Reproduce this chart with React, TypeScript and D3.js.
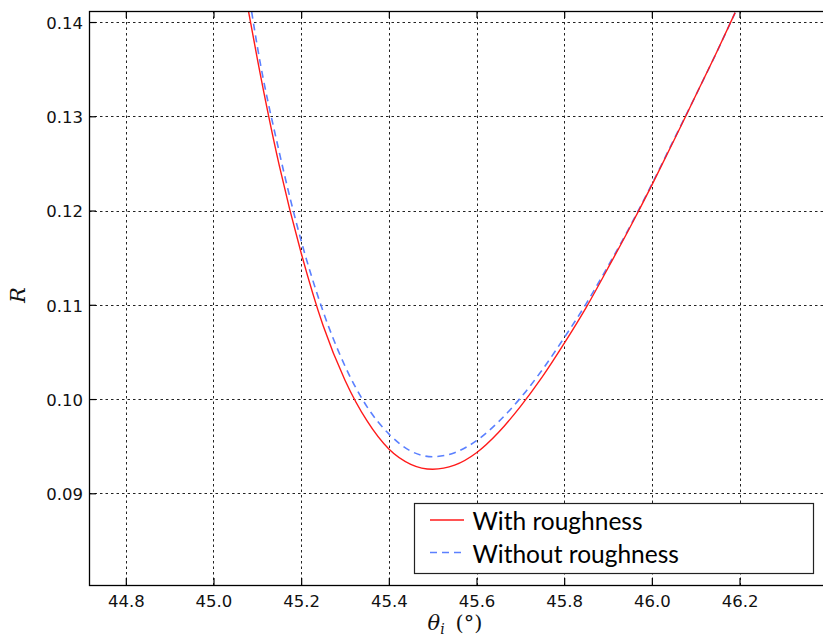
import React, { useEffect, useRef } from 'react'
import * as d3 from 'd3'

// values
const theta = [45.08, 45.10, 45.15, 45.20, 45.25, 45.30, 45.35, 45.40, 45.45, 45.50, 45.55, 45.60, 45.65, 45.70, 45.75, 45.80, 45.85, 45.90, 45.95, 46.00, 46.05, 46.10, 46.15, 46.19]
const rWith = [0.1411, 0.1361, 0.1248, 0.1155, 0.1078, 0.1020, 0.0977, 0.0947, 0.09308, 0.09255, 0.09298, 0.0943, 0.09645, 0.0992, 0.10235, 0.1059, 0.1097, 0.1139, 0.1182, 0.1227, 0.1274, 0.1322, 0.1370, 0.1410]

const thetaWithout = [45.087, 45.10, 45.15, 45.20, 45.25, 45.30, 45.35, 45.40, 45.45, 45.50, 45.55, 45.60, 45.65, 45.70, 45.75, 45.80, 45.85, 45.90, 45.95, 46.00, 46.05, 46.10, 46.15, 46.19]
const rWithout = [0.1411, 0.1374, 0.1262, 0.1168, 0.1093, 0.1035, 0.0992, 0.0963, 0.09448, 0.09388, 0.09431, 0.09558, 0.09758, 0.1001, 0.1031, 0.1065, 0.1101, 0.1141, 0.1183, 0.1228, 0.1275, 0.1322, 0.1370, 0.1410]

const xTicks = [44.8, 45.0, 45.2, 45.4, 45.6, 45.8, 46.0, 46.2]
const yTicks = [0.09, 0.10, 0.11, 0.12, 0.13, 0.14]
const seriesNames = ['With roughness', 'Without roughness']

const W = 823
const H = 640
const left = 89
const right = 825
const top = 11
const bottom = 585

const App = () => {
  const svgRef = useRef<SVGSVGElement>(null)

  useEffect(() => {
    const svg = d3.select(svgRef.current)
    svg.selectAll('*').remove()

    const x = d3.scaleLinear().domain([44.716, 46.395]).range([left, right])
    const y = d3.scaleLinear().domain([0.08027, 0.14117]).range([bottom, top])

    svg.append('defs').append('clipPath').attr('id', 'plot-clip')
      .append('rect')
      .attr('x', left).attr('y', top)
      .attr('width', right - left).attr('height', bottom - top)

    // grid
    const grid = svg.append('g')
      .attr('stroke', '#222')
      .attr('stroke-width', 1)
      .attr('stroke-dasharray', '2.5,3')
    grid.selectAll('.vg')
      .data(xTicks)
      .join('line')
      .attr('class', 'vg')
      .attr('x1', d => Math.round(x(d)) + 0.5).attr('x2', d => Math.round(x(d)) + 0.5)
      .attr('y1', top).attr('y2', bottom)
    grid.selectAll('.hg')
      .data(yTicks)
      .join('line')
      .attr('class', 'hg')
      .attr('y1', d => Math.round(y(d)) + 0.5).attr('y2', d => Math.round(y(d)) + 0.5)
      .attr('x1', left).attr('x2', right)

    // curves
    const line = d3.line<[number, number]>()
      .x(d => x(d[0]))
      .y(d => y(d[1]))
      .curve(d3.curveMonotoneX)

    const curves = svg.append('g').attr('clip-path', 'url(#plot-clip)')
    curves.append('path')
      .attr('d', line(thetaWithout.map((t, i) => [t, rWithout[i]] as [number, number])))
      .attr('fill', 'none')
      .attr('stroke', '#5b80ff')
      .attr('stroke-width', 1.6)
      .attr('stroke-dasharray', '7,5')
    curves.append('path')
      .attr('d', line(theta.map((t, i) => [t, rWith[i]] as [number, number])))
      .attr('fill', 'none')
      .attr('stroke', '#ff1a1a')
      .attr('stroke-width', 1.4)

    // axes, ticks pointing inward
    const fmtX = d3.format('.1f')
    const fmtY = d3.format('.2f')
    const xAxis = svg.append('g')
      .attr('transform', `translate(0, ${bottom})`)
      .call(d3.axisBottom(x).tickValues(xTicks).tickFormat(d => fmtX(d as number)).tickSizeInner(-7).tickSizeOuter(0).tickPadding(10))
    const xTop = svg.append('g')
      .attr('transform', `translate(0, ${top})`)
      .call(d3.axisTop(x).tickValues(xTicks).tickFormat(() => '').tickSizeInner(-7).tickSizeOuter(0))
    const yAxis = svg.append('g')
      .attr('transform', `translate(${left}, 0)`)
      .call(d3.axisLeft(y).tickValues(yTicks).tickFormat(d => fmtY(d as number)).tickSizeInner(-7).tickSizeOuter(0).tickPadding(6))

    ;[xAxis, xTop, yAxis].forEach(g => {
      g.select('.domain').remove()
      g.selectAll('.tick line').attr('stroke', '#000').attr('stroke-width', 1.2)
      g.selectAll('.tick text')
        .attr('fill', '#111')
        .attr('font-family', '"DejaVu Sans", sans-serif')
        .attr('font-size', 16.5)
    })
    yAxis.selectAll('.tick text').attr('dy', '0.38em')

    // frame
    svg.append('rect')
      .attr('x', left + 0.5).attr('y', top + 0.5)
      .attr('width', right - left).attr('height', bottom - top)
      .attr('fill', 'none')
      .attr('stroke', '#000')
      .attr('stroke-width', 1.3)

    // axis labels
    const xl = svg.append('text')
      .attr('x', 455).attr('y', 630)
      .attr('text-anchor', 'middle')
      .attr('font-family', '"DejaVu Serif", serif')
      .attr('font-size', 21)
      .attr('fill', '#111')
    xl.append('tspan').attr('font-style', 'italic').text('θ')
    xl.append('tspan').attr('font-style', 'italic').attr('font-size', 14).attr('dy', 4).text('i')
    xl.append('tspan').attr('dy', -4).text('\u2009 (°)')

    svg.append('text')
      .attr('transform', 'translate(25, 295) rotate(-90)')
      .attr('text-anchor', 'middle')
      .attr('font-family', '"DejaVu Serif", serif')
      .attr('font-style', 'italic')
      .attr('font-size', 21)
      .attr('fill', '#111')
      .text('R')

    // legend
    const lg = svg.append('g')
    lg.append('rect')
      .attr('x', 414.5).attr('y', 503.5)
      .attr('width', 399).attr('height', 70)
      .attr('fill', '#fff')
      .attr('stroke', '#222')
      .attr('stroke-width', 1.2)
    const styles = [
      { color: '#ff1a1a', dash: null, yy: 520 },
      { color: '#5b80ff', dash: '7,5', yy: 552.5 },
    ]
    seriesNames.forEach((name, i) => {
      lg.append('line')
        .attr('x1', 430).attr('x2', 464)
        .attr('y1', styles[i].yy).attr('y2', styles[i].yy)
        .attr('stroke', styles[i].color)
        .attr('stroke-width', 1.5)
        .attr('stroke-dasharray', styles[i].dash)
      lg.append('text')
        .attr('x', 472.5).attr('y', styles[i].yy + 10)
        .attr('font-family', 'Lato, "Open Sans", sans-serif')
        .attr('font-size', 24.5)
        .attr('fill', '#000')
        .text(name)
    })
  }, [])

  return (
    <svg ref={svgRef} width={W} height={H}
      style={{ position: 'absolute', left: 0, top: 0, display: 'block', background: '#fff' }} />
  )
}

export default App
